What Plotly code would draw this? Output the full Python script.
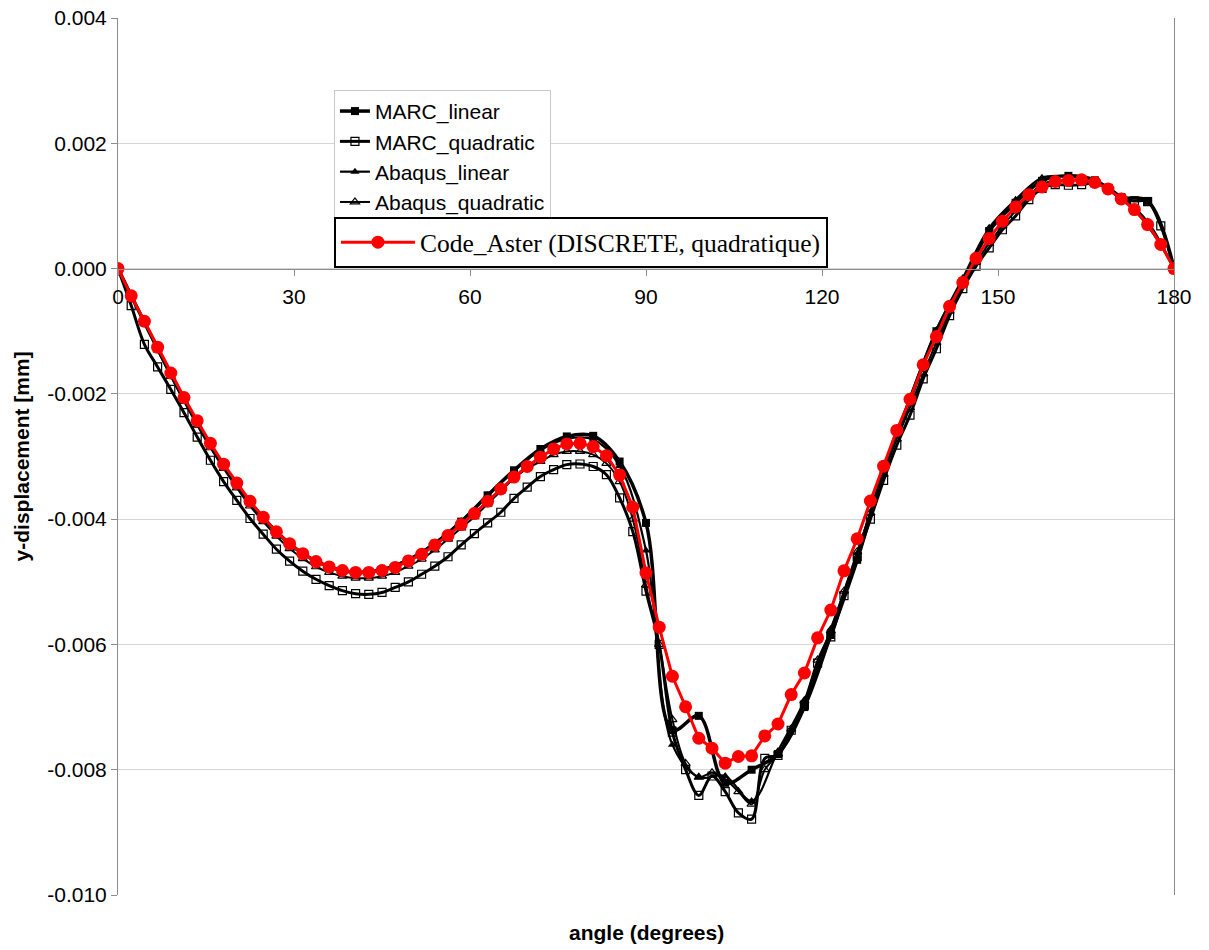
import plotly.graph_objects as go

# ---------------- data ----------------
angle_fine = [0, 2.25, 4.5, 6.75, 9, 11.25, 13.5, 15.75, 18, 20.25, 22.5, 24.75, 27, 29.25,
              31.5, 33.75, 36, 38.25, 40.5, 42.75, 45, 47.25, 49.5, 51.75, 54, 56.25, 58.5,
              60.75, 63, 65.25, 67.5, 69.75, 72, 74.25, 76.5, 78.75, 81, 83.25, 85.5, 87.75,
              90, 92.25, 94.5, 96.75, 99, 101.25, 103.5, 105.75, 108, 110.25, 112.5, 114.75,
              117, 119.25, 121.5, 123.75, 126, 128.25, 130.5, 132.75, 135, 137.25, 139.5,
              141.75, 144, 146.25, 148.5, 150.75, 153, 155.25, 157.5, 159.75, 162, 164.25,
              166.5, 168.75, 171, 173.25, 175.5, 177.75, 180]

angle_coarse = [0, 4.5, 9, 13.5, 18, 22.5, 27, 31.5, 36, 40.5, 45, 49.5, 54, 58.5, 63, 67.5,
                72, 76.5, 81, 85.5, 90, 94.5, 99, 103.5, 108, 112.5, 117, 121.5, 126, 130.5,
                135, 139.5, 144, 148.5, 153, 157.5, 162, 166.5, 171, 175.5, 180]

marc_linear = [0, -0.00086, -0.00169, -0.00247, -0.00315, -0.00373, -0.00420, -0.00455,
               -0.00476, -0.00485, -0.00481, -0.00465, -0.00439, -0.00404, -0.00362, -0.00322,
               -0.00288, -0.00268, -0.00267, -0.00308, -0.00406, -0.00737, -0.00714, -0.00821,
               -0.00800, -0.00775, -0.00700, -0.00585, -0.00465, -0.00325, -0.00210, -0.00100,
               -0.00020, 0.00060, 0.00105, 0.00140, 0.00148, 0.00141, 0.00114, 0.00108, 0]

abaqus_linear = [0, -0.00085, -0.00168, -0.00246, -0.00314, -0.00372, -0.00419, -0.00454,
                 -0.00475, -0.00484, -0.00480, -0.00464, -0.00438, -0.00403, -0.00362, -0.00323,
                 -0.00290, -0.00272, -0.00273, -0.00315, -0.00450, -0.00760, -0.00812, -0.00810,
                 -0.00850, -0.00770, -0.00690, -0.00575, -0.00455, -0.00320, -0.00205, -0.00098,
                 -0.00015, 0.00065, 0.00110, 0.00145, 0.00147, 0.00140, 0.00115, 0.00075, 0]

marc_quadratic = [0, -0.00059, -0.00121, -0.00157, -0.00193, -0.00230, -0.00269, -0.00306,
                  -0.00340, -0.00370, -0.00399, -0.00424, -0.00448, -0.00467, -0.00483, -0.00496,
                  -0.00506, -0.00514, -0.00519, -0.00520, -0.00517, -0.00509, -0.00500, -0.00488,
                  -0.00475, -0.00460, -0.00441, -0.00423, -0.00406, -0.00389, -0.00367, -0.00349,
                  -0.00332, -0.00321, -0.00313, -0.00312, -0.00316, -0.00329, -0.00366, -0.00420,
                  -0.00515, -0.00600, -0.00740, -0.00800, -0.00841, -0.00810, -0.00835, -0.00869,
                  -0.00879, -0.00782, -0.00777, -0.00737, -0.00697, -0.00630, -0.00588, -0.00522,
                  -0.00460, -0.00400, -0.00338, -0.00282, -0.00234, -0.00176, -0.00128, -0.00075,
                  -0.00032, 0.00004, 0.00033, 0.00062, 0.00084, 0.00110, 0.00128, 0.00134,
                  0.00133, 0.00134, 0.00137, 0.00128, 0.00112, 0.00108, 0.00107, 0.00068, 0]

abaqus_quadratic = [0, -0.00045, -0.00087, -0.00130, -0.00172, -0.00212, -0.00250, -0.00286,
                    -0.00319, -0.00350, -0.00379, -0.00404, -0.00427, -0.00447, -0.00463, -0.00476,
                    -0.00485, -0.00491, -0.00494, -0.00494, -0.00491, -0.00485, -0.00475, -0.00464,
                    -0.00449, -0.00432, -0.00414, -0.00396, -0.00376, -0.00355, -0.00335, -0.00319,
                    -0.00308, -0.00297, -0.00292, -0.00292, -0.00297, -0.00311, -0.00340, -0.00400,
                    -0.00505, -0.00600, -0.00720, -0.00790, -0.00812, -0.00805, -0.00815, -0.00835,
                    -0.00855, -0.00800, -0.00775, -0.00735, -0.00690, -0.00625, -0.00578, -0.00515,
                    -0.00452, -0.00390, -0.00328, -0.00272, -0.00222, -0.00168, -0.00118, -0.00068,
                    -0.00026, 0.00010, 0.00040, 0.00068, 0.00092, 0.00115, 0.00135, 0.00140,
                    0.00141, 0.00142, 0.00139, 0.00128, 0.00112, 0.00093, 0.00068, 0.00037, 0]

code_aster = [0, -0.000435, -0.000841, -0.001254, -0.001667, -0.002059, -0.002429, -0.002789,
              -0.003122, -0.003424, -0.003714, -0.003968, -0.004202, -0.004392, -0.004551,
              -0.004678, -0.004762, -0.00482, -0.00485, -0.00485, -0.00482, -0.00477, -0.004667,
              -0.004562, -0.004413, -0.00426, -0.004086, -0.003911, -0.003714, -0.003519,
              -0.003329, -0.003159, -0.003011, -0.002879, -0.0028, -0.002789, -0.002841,
              -0.002987, -0.003297, -0.00381, -0.00486, -0.005725, -0.006508, -0.006995,
              -0.007498, -0.007657, -0.007895, -0.007789, -0.007778, -0.00746, -0.00727,
              -0.0068, -0.006456, -0.005895, -0.005451, -0.004825, -0.004313, -0.00371,
              -0.003154, -0.002583, -0.002086, -0.001535, -0.001086, -0.000603, -0.000222,
              0.000163, 0.000481, 0.000756, 0.000984, 0.001179, 0.001302, 0.00139, 0.001406,
              0.001417, 0.001375, 0.00127, 0.001111, 0.000941, 0.000703, 0.000386, 0]

x_tickvals = [0, 30, 60, 90, 120, 150, 180]
x_ticktext = ["0", "30", "60", "90", "120", "150", "180"]
y_tickvals = [-0.010, -0.008, -0.006, -0.004, -0.002, 0.0, 0.002, 0.004]
y_ticktext = ["-0.010", "-0.008", "-0.006", "-0.004", "-0.002", "0.000", "0.002", "0.004"]

# ---------------- figure ----------------
SANS = "Liberation Sans, Arial, sans-serif"
SERIF = "Liberation Serif, Times New Roman, serif"

fig = go.Figure()

fig.add_trace(go.Scatter(
    x=angle_coarse, y=marc_linear, name="MARC_linear", mode="lines+markers",
    line=dict(color="black", width=3.5, shape="spline", smoothing=1),
    marker=dict(symbol="square", size=8, color="black"), legend="legend"))
fig.add_trace(go.Scatter(
    x=angle_fine, y=marc_quadratic, name="MARC_quadratic", mode="lines+markers",
    line=dict(color="black", width=3, shape="spline", smoothing=1),
    marker=dict(symbol="square-open", size=8, color="black", line=dict(width=1.2)),
    legend="legend"))
fig.add_trace(go.Scatter(
    x=angle_coarse, y=abaqus_linear, name="Abaqus_linear", mode="lines+markers",
    line=dict(color="black", width=2.2, shape="spline", smoothing=1),
    marker=dict(symbol="triangle-up", size=8, color="black"), legend="legend"))
fig.add_trace(go.Scatter(
    x=angle_fine, y=abaqus_quadratic, name="Abaqus_quadratic", mode="lines+markers",
    line=dict(color="black", width=2, shape="spline", smoothing=1),
    marker=dict(symbol="triangle-up-open", size=8, color="black", line=dict(width=1.2)),
    legend="legend"))
fig.add_trace(go.Scatter(
    x=angle_fine, y=code_aster, name="Code_Aster (DISCRETE, quadratique)", mode="lines+markers",
    line=dict(color="#ff0000", width=3),
    marker=dict(symbol="circle", size=13, color="#ff0000"), legend="legend2"))

y_min, y_max = -0.010, 0.004
x_pos = (0 - y_min) / (y_max - y_min)

fig.update_layout(
    width=1209, height=950, autosize=False,
    paper_bgcolor="white", plot_bgcolor="white",
    margin=dict(l=118, r=35, t=18, b=55, autoexpand=False),
    font=dict(family=SANS, size=21, color="black"),
    xaxis=dict(range=[0, 180], tickvals=x_tickvals, ticktext=x_ticktext,
               showgrid=False, zeroline=False, showline=True, linecolor="#8c8c8c",
               linewidth=1, ticks="outside", ticklen=6, tickcolor="#8c8c8c",
               anchor="free", position=x_pos, ticklabelstandoff=3, automargin=False,
               tickfont=dict(family=SANS, size=21, color="black")),
    yaxis=dict(range=[y_min, y_max], tickvals=y_tickvals, ticktext=y_ticktext,
               showgrid=True, gridcolor="#d6d6d6", gridwidth=1, zeroline=False,
               showline=True, linecolor="#8c8c8c", linewidth=1, mirror=True,
               ticks="outside", ticklen=6, tickcolor="#8c8c8c", automargin=False,
               tickfont=dict(family=SANS, size=21, color="black")),
    legend=dict(x=0.2045, y=0.918, xanchor="left", yanchor="top",
                bgcolor="white", bordercolor="#c8c8c8", borderwidth=1,
                font=dict(family=SANS, size=21, color="black"),
                itemwidth=30, tracegroupgap=0),
    legend2=dict(x=0.2045, y=0.773, xanchor="left", yanchor="top",
                 bgcolor="white", bordercolor="black", borderwidth=2,
                 font=dict(family=SERIF, size=25.5, color="black"),
                 itemwidth=74),
    annotations=[
        dict(text="<b>angle (degrees)</b>", xref="paper", yref="paper",
             x=0.5, y=-0.043, xanchor="center", yanchor="middle", showarrow=False,
             font=dict(family=SANS, size=21, color="black")),
        dict(text="<b>y-displacement [mm]</b>", xref="paper", yref="paper",
             x=-0.091, y=0.5, xanchor="center", yanchor="middle", showarrow=False,
             textangle=-90, font=dict(family=SANS, size=21, color="black")),
    ],
)

fig.write_html("out.html",
               config={"displayModeBar": False},
               post_script="document.body.style.margin='0px';document.body.style.overflow='hidden';")
